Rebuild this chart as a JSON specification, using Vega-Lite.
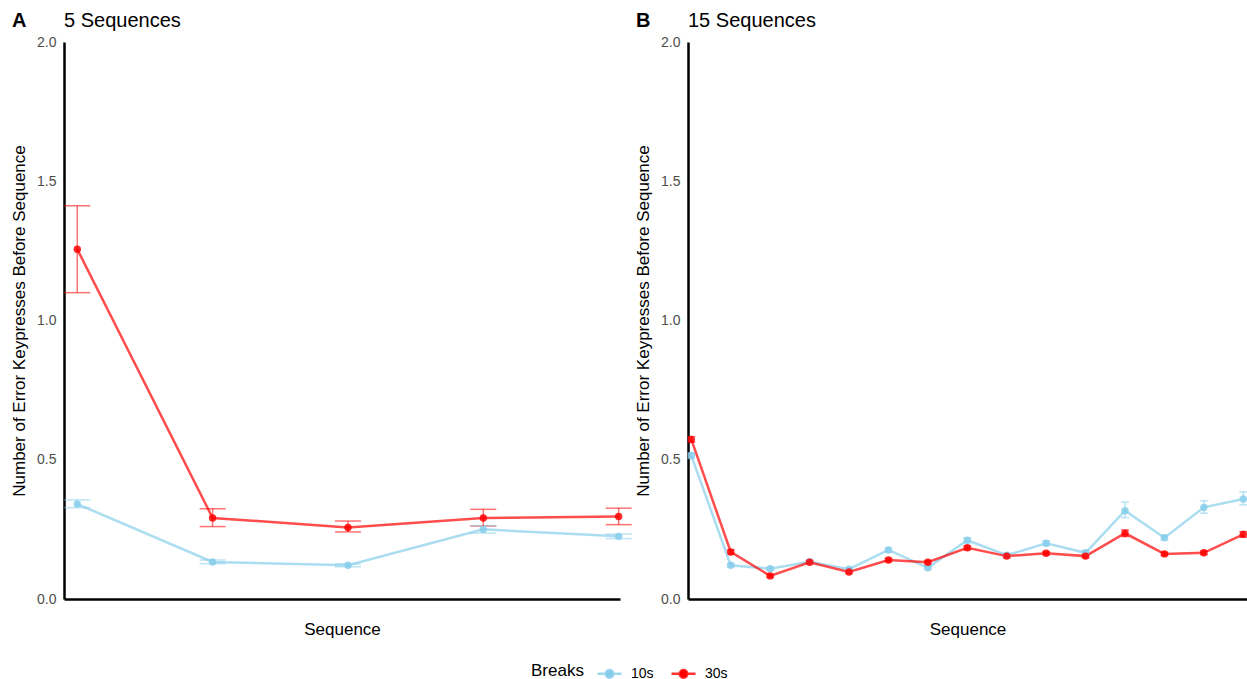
{
  "$schema": "https://vega.github.io/schema/vega-lite/v6.json",
  "background": "white",
  "padding": {"left": 10, "top": 11, "right": 0, "bottom": 0},
  "config": {
    "font": "Liberation Sans",
    "view": {"stroke": null},
    "axis": {
      "grid": false,
      "domainColor": "black",
      "domainWidth": 2.5,
      "labelColor": "#4D4D4D",
      "labelFontSize": 14,
      "titleFontSize": 17,
      "titleFontWeight": "normal",
      "titleColor": "black"
    }
  },
  "datasets": {
    "five": [
      {"seq": 1, "breaks": "10s", "mean": 0.341, "lo": 0.328, "hi": 0.356},
      {"seq": 2, "breaks": "10s", "mean": 0.133, "lo": 0.127, "hi": 0.140},
      {"seq": 3, "breaks": "10s", "mean": 0.121, "lo": 0.116, "hi": 0.126},
      {"seq": 4, "breaks": "10s", "mean": 0.250, "lo": 0.237, "hi": 0.263},
      {"seq": 5, "breaks": "10s", "mean": 0.225, "lo": 0.217, "hi": 0.233},
      {"seq": 1, "breaks": "30s", "mean": 1.256, "lo": 1.100, "hi": 1.412},
      {"seq": 2, "breaks": "30s", "mean": 0.291, "lo": 0.260, "hi": 0.324},
      {"seq": 3, "breaks": "30s", "mean": 0.257, "lo": 0.241, "hi": 0.280},
      {"seq": 4, "breaks": "30s", "mean": 0.291, "lo": 0.262, "hi": 0.322},
      {"seq": 5, "breaks": "30s", "mean": 0.296, "lo": 0.267, "hi": 0.326}
    ],
    "fifteen": [
      {"seq": 1, "breaks": "10s", "mean": 0.515, "lo": 0.505, "hi": 0.525},
      {"seq": 2, "breaks": "10s", "mean": 0.121, "lo": 0.115, "hi": 0.127},
      {"seq": 3, "breaks": "10s", "mean": 0.109, "lo": 0.104, "hi": 0.114},
      {"seq": 4, "breaks": "10s", "mean": 0.134, "lo": 0.129, "hi": 0.139},
      {"seq": 5, "breaks": "10s", "mean": 0.107, "lo": 0.102, "hi": 0.112},
      {"seq": 6, "breaks": "10s", "mean": 0.176, "lo": 0.169, "hi": 0.183},
      {"seq": 7, "breaks": "10s", "mean": 0.112, "lo": 0.106, "hi": 0.118},
      {"seq": 8, "breaks": "10s", "mean": 0.211, "lo": 0.202, "hi": 0.220},
      {"seq": 9, "breaks": "10s", "mean": 0.157, "lo": 0.151, "hi": 0.163},
      {"seq": 10, "breaks": "10s", "mean": 0.200, "lo": 0.192, "hi": 0.208},
      {"seq": 11, "breaks": "10s", "mean": 0.166, "lo": 0.159, "hi": 0.173},
      {"seq": 12, "breaks": "10s", "mean": 0.317, "lo": 0.292, "hi": 0.348},
      {"seq": 13, "breaks": "10s", "mean": 0.220, "lo": 0.212, "hi": 0.228},
      {"seq": 14, "breaks": "10s", "mean": 0.329, "lo": 0.308, "hi": 0.353},
      {"seq": 15, "breaks": "10s", "mean": 0.359, "lo": 0.338, "hi": 0.385},
      {"seq": 1, "breaks": "30s", "mean": 0.573, "lo": 0.563, "hi": 0.583},
      {"seq": 2, "breaks": "30s", "mean": 0.169, "lo": 0.161, "hi": 0.177},
      {"seq": 3, "breaks": "30s", "mean": 0.083, "lo": 0.078, "hi": 0.088},
      {"seq": 4, "breaks": "30s", "mean": 0.132, "lo": 0.126, "hi": 0.138},
      {"seq": 5, "breaks": "30s", "mean": 0.097, "lo": 0.092, "hi": 0.102},
      {"seq": 6, "breaks": "30s", "mean": 0.140, "lo": 0.134, "hi": 0.146},
      {"seq": 7, "breaks": "30s", "mean": 0.132, "lo": 0.126, "hi": 0.138},
      {"seq": 8, "breaks": "30s", "mean": 0.184, "lo": 0.177, "hi": 0.191},
      {"seq": 9, "breaks": "30s", "mean": 0.154, "lo": 0.148, "hi": 0.160},
      {"seq": 10, "breaks": "30s", "mean": 0.164, "lo": 0.158, "hi": 0.170},
      {"seq": 11, "breaks": "30s", "mean": 0.154, "lo": 0.148, "hi": 0.160},
      {"seq": 12, "breaks": "30s", "mean": 0.236, "lo": 0.224, "hi": 0.248},
      {"seq": 13, "breaks": "30s", "mean": 0.162, "lo": 0.156, "hi": 0.168},
      {"seq": 14, "breaks": "30s", "mean": 0.166, "lo": 0.160, "hi": 0.172},
      {"seq": 15, "breaks": "30s", "mean": 0.232, "lo": 0.222, "hi": 0.242}
    ]
  },
  "spacing": 68,
  "bounds": "flush",
  "resolve": {"scale": {"color": "shared"}},
  "hconcat": [
    {
      "width": 556,
      "height": 557,
      "data": {"name": "five"},
      "encoding": {
        "x": {"field": "seq", "type": "quantitative", "scale": {"domain": [0.902, 5.01], "nice": false, "zero": false},
              "axis": {"title": "Sequence", "labels": false, "ticks": false, "titlePadding": 22}},
        "y": {"field": "mean", "type": "quantitative", "scale": {"domain": [0, 2], "nice": false},
              "axis": {"title": "Number of Error Keypresses Before Sequence", "values": [0, 0.5, 1, 1.5, 2], "format": ".1f", "ticks": false, "labelPadding": 8, "titlePadding": 8}},
        "color": {"field": "breaks", "type": "nominal", "scale": {"domain": ["10s", "30s"], "range": ["#87CEEB", "#FF0000"]},
                  "legend": {"title": "Breaks", "orient": "none", "legendX": 467, "legendY": 618, "direction": "horizontal", "titleOrient": "left", "titleFontSize": 17, "titleFontWeight": "normal", "titleColor": "black", "labelFontSize": 14, "labelColor": "black", "symbolType": "M-1,0H1M-0.32,0a0.32,0.32 0 1,0 0.64,0a0.32,0.32 0 1,0 -0.64,0", "symbolSize": 576, "symbolStrokeWidth": 2.5, "symbolOpacity": 1, "titlePadding": 12, "columnPadding": 12, "labelOffset": 8,
                             "encode": {"symbols": {"update": {"opacity": {"value": 1}, "fillOpacity": {"value": 1}, "strokeOpacity": {"value": 0.8}}}}}}
      },
      "layer": [
        {"mark": {"type": "errorbar", "ticks": {"size": 26}, "thickness": 1.5, "opacity": 0.55},
         "encoding": {"y": {"field": "lo", "type": "quantitative", "title": "Number of Error Keypresses Before Sequence"}, "y2": {"field": "hi"}}},
        {"mark": {"type": "line", "strokeWidth": 2.5, "opacity": 0.7}},
        {"mark": {"type": "point", "filled": true, "size": 55, "opacity": 0.85}},
        {"transform": [{"filter": "datum.seq == 1 && datum.breaks == '10s'"}],
         "mark": {"type": "text", "text": "A", "fontSize": 20, "fontWeight": "bold", "align": "left", "baseline": "alphabetic", "dx": -52, "dy": -15},
         "encoding": {"x": {"datum": 0.902}, "y": {"datum": 2}, "color": {"value": "black"}}},
        {"transform": [{"filter": "datum.seq == 1 && datum.breaks == '10s'"}],
         "mark": {"type": "text", "text": "5 Sequences", "fontSize": 20, "fontWeight": "normal", "align": "left", "baseline": "alphabetic", "dx": 0, "dy": -15},
         "encoding": {"x": {"datum": 0.902}, "y": {"datum": 2}, "color": {"value": "black"}}}
      ]
    },
    {
      "width": 559,
      "height": 557,
      "data": {"name": "fifteen"},
      "encoding": {
        "x": {"field": "seq", "type": "quantitative", "scale": {"domain": [0.916, 15.094], "nice": false, "zero": false},
              "axis": {"title": "Sequence", "labels": false, "ticks": false, "titlePadding": 22}},
        "y": {"field": "mean", "type": "quantitative", "scale": {"domain": [0, 2], "nice": false},
              "axis": {"title": "Number of Error Keypresses Before Sequence", "values": [0, 0.5, 1, 1.5, 2], "format": ".1f", "ticks": false, "labelPadding": 8, "titlePadding": 8}},
        "color": {"field": "breaks", "type": "nominal", "scale": {"domain": ["10s", "30s"], "range": ["#87CEEB", "#FF0000"]}}
      },
      "layer": [
        {"mark": {"type": "errorbar", "ticks": {"size": 8}, "thickness": 1.5, "opacity": 0.55},
         "encoding": {"y": {"field": "lo", "type": "quantitative", "title": "Number of Error Keypresses Before Sequence"}, "y2": {"field": "hi"}}},
        {"mark": {"type": "line", "strokeWidth": 2.5, "opacity": 0.7}},
        {"mark": {"type": "point", "filled": true, "size": 55, "opacity": 0.85}},
        {"transform": [{"filter": "datum.seq == 1 && datum.breaks == '10s'"}],
         "mark": {"type": "text", "text": "B", "fontSize": 20, "fontWeight": "bold", "align": "left", "baseline": "alphabetic", "dx": -52, "dy": -15},
         "encoding": {"x": {"datum": 0.916}, "y": {"datum": 2}, "color": {"value": "black"}}},
        {"transform": [{"filter": "datum.seq == 1 && datum.breaks == '10s'"}],
         "mark": {"type": "text", "text": "15 Sequences", "fontSize": 20, "fontWeight": "normal", "align": "left", "baseline": "alphabetic", "dx": 0, "dy": -15},
         "encoding": {"x": {"datum": 0.916}, "y": {"datum": 2}, "color": {"value": "black"}}}
      ]
    }
  ]
}
